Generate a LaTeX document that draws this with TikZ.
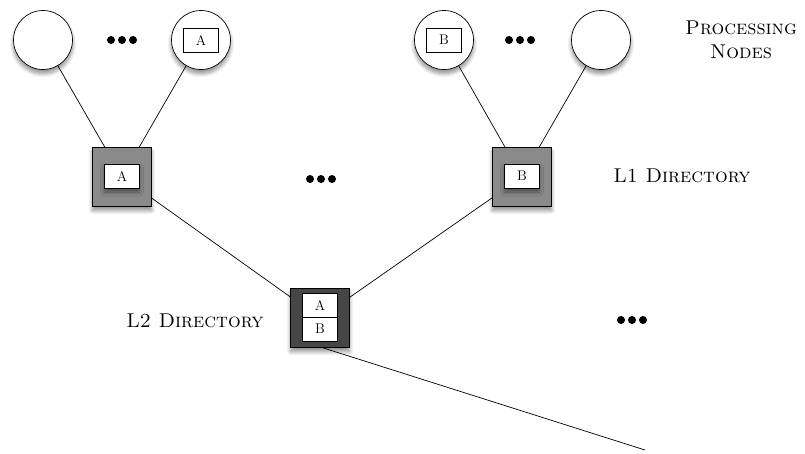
\documentclass[tikz,border=0pt]{standalone}
\usetikzlibrary{shadows.blur}
\definecolor{lonegray}{RGB}{138,138,138}
\definecolor{ltwogray}{RGB}{70,70,70}
\tikzset{
  x=1pt, y=-1pt,
  sh/.style={blur shadow={shadow xshift=0pt, shadow yshift=-4pt, shadow blur steps=8, shadow opacity=45, shadow blur radius=4pt}},
  procnode/.style={circle, draw, line width=0.7pt, fill=white, minimum size=59pt, inner sep=0pt, sh},
  tag/.style={rectangle, draw, line width=0.6pt, fill=white, minimum width=35pt, minimum height=24pt, inner sep=0pt, font=\fontsize{14}{16}\selectfont},
  dirbox/.style={rectangle, draw, line width=0.7pt, minimum size=59pt, inner sep=0pt, sh},
  dot/.style={circle, fill=black, minimum size=8pt, inner sep=0pt},
  label/.style={font=\fontsize{20}{24}\selectfont\scshape, align=center},
  conn/.style={line width=0.7pt}
}
\begin{document}
\begin{tikzpicture}
\useasboundingbox (0,0) rectangle (805,453);
% processing nodes
\node[procnode] (c1) at (43,40) {};
\node[procnode] (c2) at (201,40) {};
\node[tag] (ta) at (201,40) {A};
\node[procnode] (c3) at (444,40) {};
\node[tag] (tb) at (444,40) {B};
\node[procnode] (c4) at (601,40) {};
% L1 directories
\node[dirbox, fill=lonegray] (l1a) at (122,177) {};
\node[tag, sh] (l1ta) at (122,176) {A};
\node[dirbox, fill=lonegray] (l1b) at (522,177) {};
\node[tag, sh] (l1tb) at (522,176) {B};
% L2 directory
\node[dirbox, fill=ltwogray] (l2) at (320,318) {};
\node[tag] (l2ta) at (320,305) {A};
\node[tag] (l2tb) at (320,329) {B};
\coordinate (tail) at (645,450);
% connectors
\draw[conn] (c1) -- (l1a);
\draw[conn] (c2) -- (l1a);
\draw[conn] (c3) -- (l1b);
\draw[conn] (c4) -- (l1b);
\draw[conn] (l1a) -- (l2);
\draw[conn] (l1b) -- (l2);
\draw[conn] ([xshift=3pt]l2.south) -- (tail);
% ellipses
\foreach \cx/\cy/\nm in {122/40/a, 520/40/b, 321/179/c, 632/320/d}{
  \node[dot] (d\nm1) at (\cx-11,\cy) {};
  \node[dot] (d\nm2) at (\cx,\cy) {};
  \node[dot] (d\nm3) at (\cx+11,\cy) {};
}
% labels
\node[label] (lp) at (741,40) {Processing\\Nodes};
\node[label] (ll1) at (682,176) {L1 Directory};
\node[label] (ll2) at (195,321) {L2 Directory};
\end{tikzpicture}
\end{document}
